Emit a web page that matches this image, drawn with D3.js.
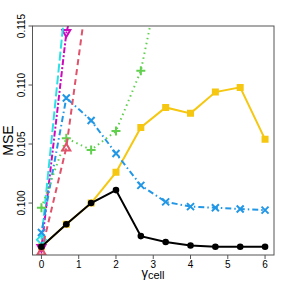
<!DOCTYPE html>
<html>
<head>
<meta charset="utf-8">
<script src="https://cdn.jsdelivr.net/npm/d3@7"></script>
<style>
  html, body { margin: 0; padding: 0; background: #fff; }
  text { font-family: "Liberation Sans", Arial, sans-serif; fill: #000; }
</style>
</head>
<body>
<div id="chart"></div>
<script>
// Data
const gammaCell = [0, 0.667, 1.333, 2, 2.667, 3.333, 4, 4.667, 5.333, 6];
const mseBlack   = [0.0963, 0.0982, 0.1000, 0.1011, 0.0972, 0.0967, 0.0964, 0.0963, 0.0963, 0.0963];
const mseRed     = [0.0959, 0.1047, 0.1201];
const mseGreen   = [0.0996, 0.1055, 0.1045, 0.1061, 0.1112, 0.1214];
const mseBlue    = [0.0975, 0.1089, 0.1070, 0.1042, 0.1015, 0.1001, 0.0997, 0.0996, 0.0995, 0.0994];
const mseCyan    = [0.0969, 0.1177];
const mseMagenta = [0.0962, 0.1144, 0.1231];
const mseYellow  = [0.0963, 0.0982, 0.1000, 0.1026, 0.1064, 0.1081, 0.1076, 0.1094, 0.1098, 0.1054];
const xTicks = [0, 1, 2, 3, 4, 5, 6];
const yTicks = [0.100, 0.105, 0.110, 0.115];

// Series styling (drawn yellow first, black last)
const series = [
  { vals: mseYellow,  color: "#F5C710", dash: null,          shape: "square" },
  { vals: mseMagenta, color: "#CD0BBC", dash: "2,2,6,2",     shape: "down" },
  { vals: mseCyan,    color: "#28E2E5", dash: "9,3",         shape: "diamond" },
  { vals: mseBlue,    color: "#2297E6", dash: "1.5,3,6,3",   shape: "x" },
  { vals: mseGreen,   color: "#61D04F", dash: "1.5,3.5",     shape: "plus" },
  { vals: mseRed,     color: "#DF536B", dash: "6,4",         shape: "up" },
  { vals: mseBlack,   color: "#000000", dash: null,          shape: "circle" }
];

const W = 288, H = 288;
const box = { left: 32.5, right: 274, top: 26, bottom: 255 };

const svg = d3.select("#chart").append("svg").attr("width", W).attr("height", H);

const x = d3.scaleLinear().domain([-0.24, 6.24]).range([box.left, box.right]);
const y = d3.scaleLinear().domain([0.0956, 0.115]).range([box.bottom, box.top]);

svg.append("defs").append("clipPath").attr("id", "plotClip")
  .append("rect").attr("x", box.left).attr("y", box.top)
  .attr("width", box.right - box.left).attr("height", box.bottom - box.top);

// Marker path builders
function markerPath(shape, cx, cy) {
  const s = 3.5;
  switch (shape) {
    case "square": return `M${cx-s},${cy-s}h${2*s}v${2*s}h${-2*s}Z`;
    case "down": return `M${cx-4},${cy-3}L${cx+4},${cy-3}L${cx},${cy+4}Z`;
    case "up": return `M${cx-4},${cy+3}L${cx+4},${cy+3}L${cx},${cy-4}Z`;
    case "diamond": return `M${cx},${cy-4.5}L${cx+4.5},${cy}L${cx},${cy+4.5}L${cx-4.5},${cy}Z`;
    case "x": return `M${cx-s},${cy-s}L${cx+s},${cy+s}M${cx-s},${cy+s}L${cx+s},${cy-s}`;
    case "plus": return `M${cx-4.5},${cy}L${cx+4.5},${cy}M${cx},${cy-4.5}L${cx},${cy+4.5}`;
  }
  return "";
}

const plot = svg.append("g").attr("clip-path", "url(#plotClip)");
const line = d3.line().x(d => x(d[0])).y(d => y(d[1]));

series.forEach(s => {
  const pts = s.vals.map((v, i) => [gammaCell[i], v]);
  plot.append("path").datum(pts).attr("d", line)
    .attr("fill", "none").attr("stroke", s.color).attr("stroke-width", 2)
    .attr("stroke-dasharray", s.dash);

  const g = plot.append("g");
  pts.forEach(p => {
    const cx = x(p[0]), cy = y(p[1]);
    if (s.shape === "circle") {
      g.append("circle").attr("cx", cx).attr("cy", cy).attr("r", 3.3).attr("fill", s.color);
    } else if (s.shape === "square") {
      g.append("path").attr("d", markerPath(s.shape, cx, cy)).attr("fill", s.color);
    } else {
      g.append("path").attr("d", markerPath(s.shape, cx, cy))
        .attr("fill", "none").attr("stroke", s.color).attr("stroke-width", 2);
    }
  });
});

// Plot box
svg.append("rect").attr("x", box.left).attr("y", box.top)
  .attr("width", box.right - box.left).attr("height", box.bottom - box.top)
  .attr("fill", "none").attr("stroke", "#555").attr("stroke-width", 1);

// X axis
const xAxis = svg.append("g");
xTicks.forEach(t => {
  xAxis.append("line").attr("x1", x(t)).attr("x2", x(t)).attr("y1", box.bottom).attr("y2", box.bottom + 4)
    .attr("stroke", "#555");
  xAxis.append("text").attr("x", x(t)).attr("y", 267.5).attr("text-anchor", "middle")
    .attr("font-size", 10).attr("fill", "#333").text(t);
});

// Y axis
const yAxis = svg.append("g");
yTicks.forEach(t => {
  yAxis.append("line").attr("x1", box.left - 4).attr("x2", box.left).attr("y1", y(t)).attr("y2", y(t))
    .attr("stroke", "#555");
  yAxis.append("text").attr("transform", `translate(24.5,${y(t)}) rotate(-90)`)
    .attr("text-anchor", "middle").attr("font-size", 10).attr("fill", "#333").text(t.toFixed(3));
});

// Axis titles
svg.append("text").attr("transform", `translate(13,${(box.top + box.bottom) / 2}) rotate(-90)`)
  .attr("text-anchor", "middle").attr("font-size", 14).text("MSE");

const xl = svg.append("text").attr("x", 153).attr("y", 277).attr("text-anchor", "middle").attr("font-size", 13);
xl.append("tspan").text("γ");
xl.append("tspan").attr("font-size", 11).attr("dy", 2).text("cell");
</script>
</body>
</html>
